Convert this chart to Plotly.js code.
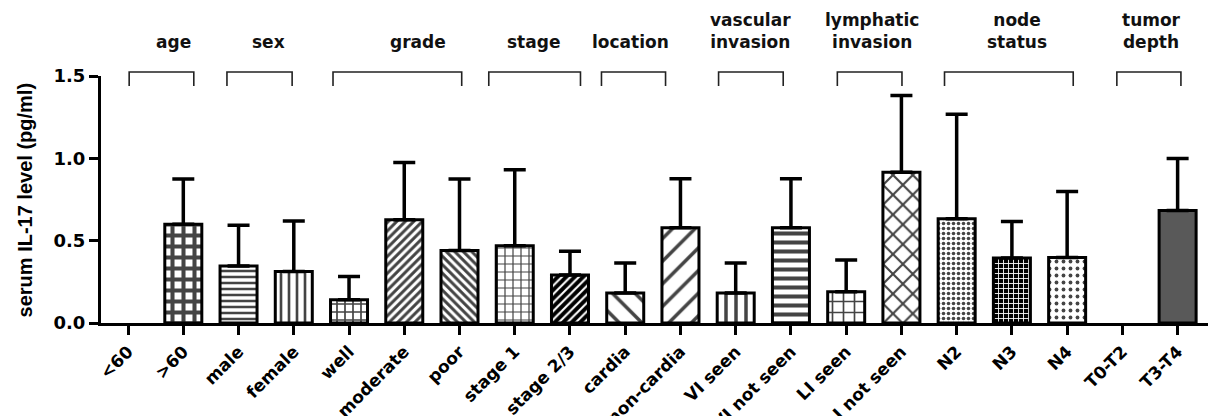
<!DOCTYPE html>
<html><head><meta charset="utf-8">
<script src="https://cdn.plot.ly/plotly-3.0.1.min.js"></script>
<style>html,body{margin:0;padding:0;background:#fff}#chart{width:1208px;height:416px}</style>
</head><body><div id="chart"></div>
<script>
// ---- data ----
const categories = ['<60','>60','male','female','well','moderate','poor','stage 1','stage 2/3',
  'cardia','non-cardia','VI seen','VI not seen','LI seen','LI not seen','N2','N3','N4','T0-T2','T3-T4'];
const meanLevel = [0,0.60,0.346,0.313,0.141,0.627,0.44,0.469,0.291,0.182,0.578,0.182,0.578,0.19,0.916,0.633,0.394,0.398,0,0.683];
const errorTop  = [0,0.875,0.594,0.62,0.283,0.975,0.874,0.93,0.435,0.364,0.876,0.364,0.876,0.382,1.381,1.268,0.617,0.799,0,0.999];
const groupNames = ['age','sex','grade','stage','location','vascular<br>invasion','lymphatic<br>invasion','node<br>status','tumor<br>depth'];
const groupFirst = ['<60','male','well','stage 1','cardia','VI seen','LI seen','N2','T0-T2'];
const groupLast  = ['>60','female','poor','stage 2/3','non-cardia','VI not seen','LI not seen','N4','T3-T4'];
const yTicks = [0, 0.5, 1.0, 1.5];
const yTickText = ['0.0','0.5','1.0','1.5'];
const yTitle = 'serum IL-17 level (pg/ml)';

// ---- styles ----
const patShape = ['', '+', '-', '|', '+', '/', '\\', '+', '/', '\\', '/', '|', '-', '+', 'x', '.', '+', '.', '', ''];
const patSize  = [8, 11, 6, 8, 8, 6, 6, 8, 6, 16, 16, 10, 9, 11, 14, 5, 5, 7, 8, 8];
const patSolid = [0.3, 0.6, 0.42, 0.33, 0.38, 0.5, 0.5, 0.28, 0.35, 0.22, 0.22, 0.35, 0.45, 0.28, 0.28, 0.4, 0.32, 0.24, 0.3, 0.3];
const patFg = categories.map((c,i)=> (i===8||i===16) ? '#ffffff' : '#000000');
const barColor = categories.map((c,i)=> meanLevel[i]===0 ? 'rgba(0,0,0,0)' :
  (i===19 ? '#595959' : ((i===8||i===16) ? '#000000' : '#ffffff')));
const bracketLeftOff  = [0.02,-0.21,-0.29,-0.47,-0.43,-0.31,-0.16,-0.22,-0.10];
const bracketRightOff = [0.19,-0.03,0.04,0.19,-0.27,-0.14,0.01,0.11,0.06];
const labelShift      = [0.21,0.17,0.37,-0.02,-0.05,0,0.04,0.14,0.05];

const errPlus = meanLevel.map((m,i)=> m>0 ? +(errorTop[i]-m).toFixed(3) : NaN);
const errMinus = meanLevel.map(m=> m>0 ? 0 : NaN);
const outlineW = meanLevel.map(m=> m>0 ? 3 : 0);

const trace = {
  type:'bar', x: categories, y: meanLevel, width: 0.67,
  marker:{
    color: barColor,
    line:{color:'#000', width: outlineW},
    pattern:{shape: patShape, size: patSize, solidity: patSolid, fgcolor: patFg, fgopacity:1, fillmode:'overlay'}
  },
  error_y:{type:'data', symmetric:false, array: errPlus, arrayminus: errMinus, color:'#000', thickness:3.5, width:11},
  hoverinfo:'skip'
};

const shapes = [], annotations = [];
const yTop = 1.016, yLeg = 0.96;
groupNames.forEach((g,k)=>{
  const i0 = categories.indexOf(groupFirst[k]) + bracketLeftOff[k];
  const i1 = categories.indexOf(groupLast[k]) + bracketRightOff[k];
  shapes.push({type:'path', xref:'x', yref:'paper',
    path:`M ${i0},${yLeg} L ${i0},${yTop} L ${i1},${yTop} L ${i1},${yLeg}`,
    line:{color:'#222', width:1.6}});
  annotations.push({xref:'x', yref:'paper', x:(i0+i1)/2 + labelShift[k], y:1.09,
    xanchor:'center', yanchor:'bottom', showarrow:false, text:g, align:'center',
    font:{family:'DejaVu Sans', size:17, weight:'bold', color:'#111'}});
});
annotations.push({xref:'paper', yref:'paper', x:-0.0687, y:0.5, xanchor:'center', yanchor:'middle',
  textangle:-90, showarrow:false, text:yTitle,
  font:{family:'Liberation Sans, Arial, sans-serif', size:20, weight:'bold', color:'#000'}});

const layout = {
  width:1208, height:416,
  margin:{l:101, r:0, t:76, b:93},
  paper_bgcolor:'#fff', plot_bgcolor:'#fff',
  showlegend:false,
  xaxis:{
    type:'category', range:[-0.49, 19.55], showgrid:false, zeroline:false,
    showline:true, linecolor:'#000', linewidth:3,
    ticks:'outside', ticklen:9, tickwidth:2.5, tickcolor:'#000',
    tickangle:-45, tickfont:{family:'DejaVu Sans', size:17, weight:'bold', color:'#000'},
    automargin:false
  },
  yaxis:{
    range:[0,1.5], showgrid:false, zeroline:false,
    showline:true, linecolor:'#000', linewidth:3,
    ticks:'outside', ticklen:9, tickwidth:2.5, tickcolor:'#000',
    tickvals:yTicks, ticktext:yTickText,
    tickfont:{family:'DejaVu Sans', size:18, weight:'bold', color:'#000'},
    automargin:false
  },
  shapes, annotations
};

Plotly.newPlot('chart',[trace],layout,{displayModeBar:false});
</script></body></html>
